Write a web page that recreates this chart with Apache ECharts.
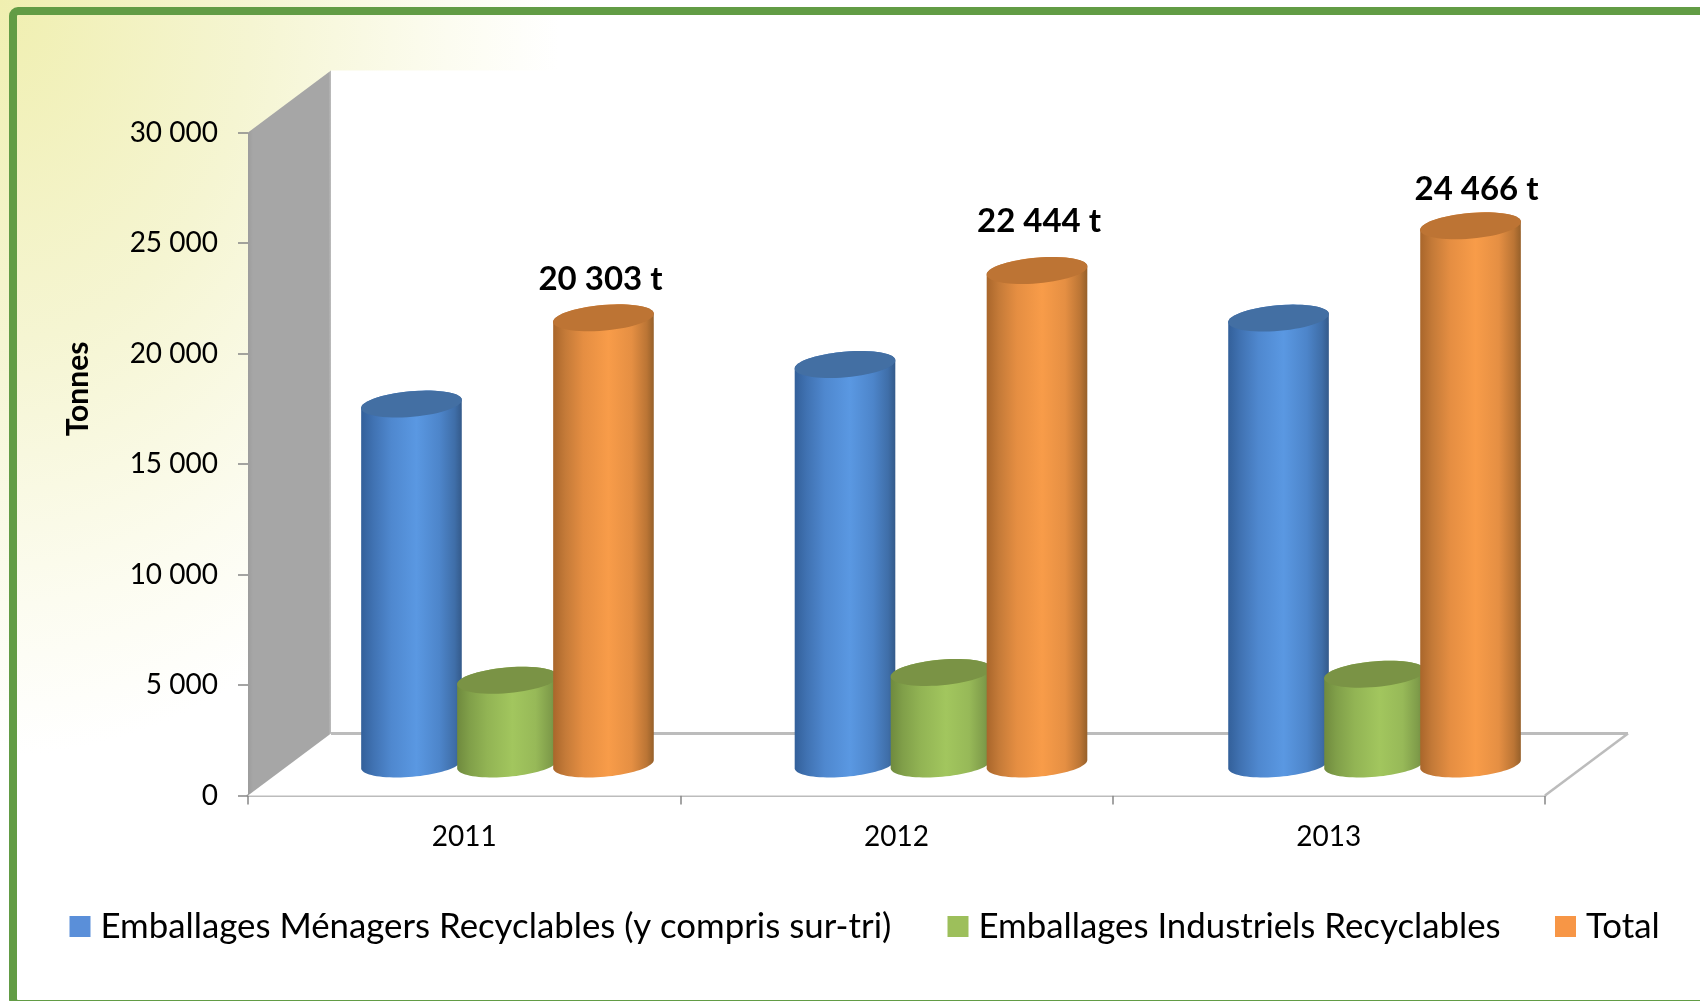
<!DOCTYPE html>
<html>
<head>
<meta charset="utf-8">
<style>html,body{margin:0;padding:0;background:#fff;overflow:hidden}#c{width:1700px;height:1001px}</style>
<script src="https://cdn.jsdelivr.net/npm/echarts@6/dist/echarts.min.js"></script>
</head>
<body>
<div id="c"></div>
<script>
const categories = ['2011', '2012', '2013'];
const menagers = [16400, 18190, 20290];
const industriels = [3903, 4254, 4176];
const totals = [20303, 22444, 24466];
const yTicks = [0, 5000, 10000, 15000, 20000, 25000, 30000];

const nameMenagers = 'Emballages Ménagers Recyclables (y compris sur-tri)';
const nameIndustriels = 'Emballages Industriels Recyclables';
const nameTotal = 'Total';

const FONT = 'Lato';
const DEPTH_X = 83, DEPTH_Y = -62;
const BAR_SHIFT_X = 44.5, BAR_SHIFT_Y = -31.5, TOP_DROP = 2.5, BAND_STRETCH = 1.2;
const BAR_STEP = 96, SEMI_A = 50.5, SEMI_B = 12.8, TILT = -5 * Math.PI / 180;
const labelDx = [-3, 2, 6], labelDy = [-38.5, -49.5, -36.5];

const fmt = v => String(v).replace(/\B(?=(\d{3})+(?!\d))/g, ' ');

function arc(cx, cy, t0, t1, n) {
  const pts = [];
  for (let k = 0; k <= n; k++) {
    const t = t0 + (t1 - t0) * k / n;
    pts.push([
      cx + SEMI_A * Math.cos(t) * Math.cos(TILT) - SEMI_B * Math.sin(t) * Math.sin(TILT),
      cy + SEMI_A * Math.cos(t) * Math.sin(TILT) + SEMI_B * Math.sin(t) * Math.cos(TILT)
    ]);
  }
  return pts;
}

function hGrad(stops) {
  return new echarts.graphic.LinearGradient(0, 0, 1, 0, stops.map(s => ({ offset: s[0], color: s[1] })));
}

function cylinder(slot, colors, withLabel) {
  return function (params, api) {
    const i = api.value(0), v = api.value(1);
    const top = api.coord([i, v]);
    const base = api.coord([i, 0]);
    const cx = top[0] + BAR_SHIFT_X + slot * BAR_STEP + (i - 1) * BAND_STRETCH;
    const yTop = top[1] + BAR_SHIFT_Y + TOP_DROP;
    const yBase = base[1] + BAR_SHIFT_Y;
    const upper = arc(cx, yTop, 0, 2 * Math.PI, 60);
    const body = arc(cx, yBase, 0, Math.PI, 40).concat(arc(cx, yTop, Math.PI, 2 * Math.PI, 40));
    const children = [
      { type: 'polygon', shape: { points: body }, style: { fill: hGrad(colors.side), stroke: null } },
      { type: 'polygon', shape: { points: upper }, style: { fill: colors.top, stroke: null } }
    ];
    if (withLabel) {
      children.push({
        type: 'text', z2: 50,
        style: {
          text: fmt(v) + ' t', x: cx + labelDx[i], y: yTop + labelDy[i],
          align: 'center', verticalAlign: 'middle',
          fill: '#000', fontFamily: FONT, fontWeight: 'bold', fontSize: 33
        }
      });
    }
    return { type: 'group', children };
  };
}

const blueC = {
  top: '#436fa3',
  side: [[0, '#33609a'], [0.12, '#4072b2'], [0.3, '#4f88cf'], [0.55, '#5a98e2'], [0.78, '#4d85ca'], [0.93, '#3f6ea8'], [1, '#345a8a']]
};
const greenC = {
  top: '#7a9345',
  side: [[0, '#6f8a3e'], [0.12, '#809f49'], [0.3, '#92b454'], [0.55, '#a2c65e'], [0.78, '#97b958'], [0.93, '#7f9c4a'], [1, '#6e873e']]
};
const orangeC = {
  top: '#bd7434',
  side: [[0, '#a9662b'], [0.12, '#c47a38'], [0.3, '#e58e42'], [0.55, '#f89c49'], [0.78, '#e58f43'], [0.93, '#bb7535'], [1, '#96602a']]
};

function renderFrame(params, api) {
  const band = api.size([1, 0])[0];
  const x0 = api.coord([0, 0])[0] - band / 2;
  const x1 = api.coord([categories.length - 1, 0])[0] + band / 2;
  const y0 = api.coord([0, 0])[1];
  const yT = api.coord([0, yTicks[yTicks.length - 1]])[1];
  const line = '#bcbcbc';
  return {
    type: 'group',
    children: [
      { type: 'polygon', shape: { points: [[x0 + DEPTH_X, yT + DEPTH_Y], [1640, yT + DEPTH_Y], [1640, y0 + DEPTH_Y], [x1 + DEPTH_X, y0 + DEPTH_Y], [x1, y0], [x0, y0]] }, style: { fill: '#fff' } },
      { type: 'polygon', shape: { points: [[x0, yT], [x0 + DEPTH_X, yT + DEPTH_Y], [x0 + DEPTH_X, y0 + DEPTH_Y], [x0, y0]] }, style: { fill: hGrad([[0, '#9c9c9c'], [0.06, '#a6a6a6'], [0.97, '#a6a6a6'], [1, '#bdbdbd']]) } },
      { type: 'line', shape: { x1: x0 + DEPTH_X, y1: y0 + DEPTH_Y, x2: x1 + DEPTH_X, y2: y0 + DEPTH_Y }, style: { stroke: line, lineWidth: 3 } },
      { type: 'line', shape: { x1: x1, y1: y0, x2: x1 + DEPTH_X, y2: y0 + DEPTH_Y }, style: { stroke: line, lineWidth: 2.5 } }
    ]
  };
}

const legendBase = {
  orient: 'horizontal', icon: 'rect', itemWidth: 21, itemHeight: 21, selectedMode: false,
  top: 909, padding: 0,
  textStyle: { fontFamily: FONT, fontSize: 34.8, color: '#000', padding: [0, 0, 0, 5] }
};

const chart = echarts.init(document.getElementById('c'), null, { renderer: 'canvas', width: 1700, height: 1001 });
chart.setOption({
  animation: false,
  backgroundColor: '#fff',
  tooltip: { show: false },
  graphic: [
    {
      type: 'rect', z: -10, x: 0, y: 0, scaleY: 1.35, silent: true,
      shape: { x: 0, y: 0, width: 560, height: 560 },
      style: {
        fill: new echarts.graphic.RadialGradient(0, 0, 1, [
          { offset: 0, color: '#f0efb0' }, { offset: 0.45, color: '#f5f5d2' },
          { offset: 0.8, color: '#fcfcf0' }, { offset: 1, color: '#ffffff' }
        ])
      }
    },
    {
      type: 'rect', z: 100, silent: true,
      shape: { x: 13, y: 11, width: 1800, height: 993, r: 5 },
      style: { fill: 'none', stroke: '#629c45', lineWidth: 8 }
    }
  ],
  grid: { left: 248, right: 155, top: 132.5, height: 663, containLabel: false },
  legend: [
    Object.assign({}, legendBase, { left: 69.5, data: [nameMenagers] }),
    Object.assign({}, legendBase, { left: 947.5, data: [nameIndustriels] }),
    Object.assign({}, legendBase, { left: 1555, data: [nameTotal] })
  ],
  xAxis: {
    type: 'category', data: categories, boundaryGap: true,
    axisLine: { show: true, lineStyle: { color: '#bcbcbc', width: 3 } },
    axisTick: { show: true, alignWithLabel: false, length: 9, lineStyle: { color: '#868686', width: 1.5 } },
    axisLabel: { fontFamily: FONT, fontSize: 28, color: '#000', margin: 27 },
    splitLine: { show: false }
  },
  yAxis: {
    type: 'value', min: 0, max: 30000, interval: 5000,
    name: 'Tonnes', nameLocation: 'middle', nameGap: 155, nameRotate: 90,
    nameTextStyle: { fontFamily: FONT, fontWeight: 'bold', fontSize: 30, color: '#000', padding: [0, 0, 0, 150] },
    axisLine: { show: false },
    axisTick: { show: true, length: 10, lineStyle: { color: '#868686', width: 1.5 } },
    axisLabel: { fontFamily: FONT, fontSize: 28, color: '#000', margin: 30, formatter: v => fmt(v) },
    splitLine: { show: false }
  },
  series: [
    { type: 'custom', z: 1, silent: true, renderItem: renderFrame, data: [[0, 0]], encode: { x: 0, y: 1 }, legendHoverLink: false, clip: false },
    { type: 'custom', z: 3, name: nameMenagers, itemStyle: { color: '#5a8fd9' }, renderItem: cylinder(-1, blueC, false), data: menagers.map((v, i) => [i, v]), encode: { x: 0, y: 1 }, clip: false },
    { type: 'custom', z: 4, name: nameIndustriels, itemStyle: { color: '#9dbf5b' }, renderItem: cylinder(0, greenC, false), data: industriels.map((v, i) => [i, v]), encode: { x: 0, y: 1 }, clip: false },
    { type: 'custom', z: 5, name: nameTotal, itemStyle: { color: '#f79646' }, renderItem: cylinder(1, orangeC, true), data: totals.map((v, i) => [i, v]), encode: { x: 0, y: 1 }, clip: false }
  ]
});
</script>
</body>
</html>
